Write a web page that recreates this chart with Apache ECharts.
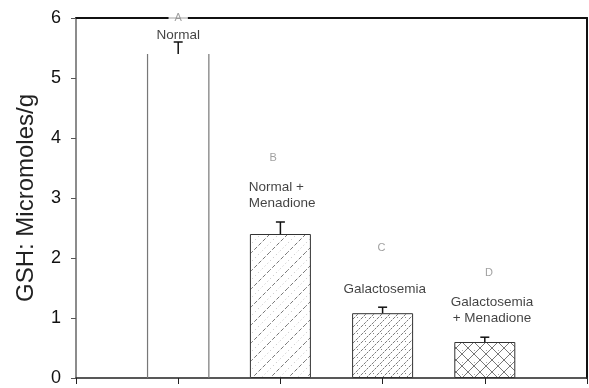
<!DOCTYPE html>
<html>
<head>
<meta charset="utf-8">
<script src="https://cdn.jsdelivr.net/npm/echarts@6/dist/echarts.min.js"></script>
<style>
html,body{margin:0;padding:0;background:#fff;}
#chart{width:589px;height:388px;}
</style>
</head>
<body>
<div id="chart"></div>
<script>
// ---- data ----
const categories = ['Normal', 'Normal + Menadione', 'Galactosemia', 'Galactosemia + Menadione'];
const categoryPos = [1, 2, 3, 4];
const gshMean = [5.4, 2.4, 1.08, 0.6];
const gshErr = [0.2, 0.2, 0.1, 0.08];
const yTickValues = [0, 1, 2, 3, 4, 5, 6];

const letterText = ['A', 'B', 'C', 'D'];
const letterX = [1.0, 1.93, 2.99, 4.04];
const letterY = [6.0, 3.67, 2.17, 1.75];

const nameText = ['Normal', 'Normal +\nMenadione', 'Galactosemia', 'Galactosemia\n+ Menadione'];
const nameX = [1.0, 1.69, 3.02, 4.07];
const nameY = [5.72, 3.05, 1.48, 1.13];
const nameAlign = ['center', 'left', 'center', 'center'];

// ---- patterns ----
function makeTile(size, draw) {
  const c = document.createElement('canvas');
  c.width = size; c.height = size;
  const ctx = c.getContext('2d');
  ctx.fillStyle = '#fff';
  ctx.fillRect(0, 0, size, size);
  draw(ctx, size);
  return c;
}
function diag(ctx, s, off) {
  ctx.beginPath();
  ctx.moveTo(-2 + off, s + 2);
  ctx.lineTo(s + 2 + off, -2);
  ctx.stroke();
}
const tile2 = makeTile(18, (ctx, s) => {
  ctx.strokeStyle = '#555'; ctx.lineWidth = 0.8; ctx.setLineDash([4, 2]);
  diag(ctx, s, 0);
  ctx.strokeStyle = '#aaa'; ctx.setLineDash([1, 3]);
  diag(ctx, s, -9); diag(ctx, s, 9);
});
const tile3 = makeTile(8, (ctx, s) => {
  ctx.strokeStyle = '#555'; ctx.lineWidth = 0.8; ctx.setLineDash([3, 1]);
  diag(ctx, s, 0); diag(ctx, s, -8); diag(ctx, s, 8);
  ctx.fillStyle = '#888'; ctx.fillRect(5, 5, 1, 1);
});
const tile4 = makeTile(12, (ctx, s) => {
  ctx.strokeStyle = '#555'; ctx.lineWidth = 0.8;
  ctx.beginPath(); ctx.moveTo(0, s); ctx.lineTo(s, 0); ctx.stroke();
  ctx.beginPath(); ctx.moveTo(0, 0); ctx.lineTo(s, s); ctx.stroke();
  ctx.fillStyle = '#aaa'; ctx.fillRect(6, 2, 1, 1);
});
const fills = [null, tile2, tile3, tile4];

const chart = echarts.init(document.getElementById('chart'), null, {renderer: 'canvas'});
const FONT = '"Liberation Sans", Arial, sans-serif';

const barData = [];
for (let i = 1; i < gshMean.length; i++) {
  barData.push({
    value: [categoryPos[i], gshMean[i]],
    itemStyle: {color: {image: fills[i], repeat: 'repeat'}, borderColor: '#333', borderWidth: 1}
  });
}
const errData = gshMean.map((v, i) => [categoryPos[i], v, v + gshErr[i]]);
const labelData = [];
letterText.forEach((t, i) => labelData.push({
  value: [letterX[i], letterY[i]],
  label: {show: true, position: 'inside', formatter: t, fontSize: 11, color: '#888', fontFamily: FONT,
    backgroundColor: i === 0 ? '#fff' : 'transparent', padding: i === 0 ? [1, 6, 1, 6] : 0}
}));
nameText.forEach((t, i) => labelData.push({
  value: [nameX[i], nameY[i]],
  label: {show: true, position: 'inside', formatter: t, fontSize: 13.5, color: '#111', fontFamily: FONT,
    align: nameAlign[i], lineHeight: 16}
}));

chart.setOption({
  animation: false,
  backgroundColor: '#fff',
  grid: {left: 76, right: 2, top: 18, bottom: 10, containLabel: false},
  xAxis: [{
    type: 'value', min: 0, max: 5, interval: 1,
    axisLine: {show: true, lineStyle: {color: '#222', width: 1.5}},
    axisTick: {show: true, length: 6, lineStyle: {color: '#222'}},
    axisLabel: {show: false},
    splitLine: {show: false}
  }, {
    type: 'value', min: 0, max: 5, position: 'top',
    axisLine: {show: true, onZero: false, lineStyle: {color: '#111', width: 2}},
    axisTick: {show: false}, axisLabel: {show: false}, splitLine: {show: false}
  }],
  yAxis: [{
    type: 'value', min: yTickValues[0], max: yTickValues[yTickValues.length - 1], interval: 1,
    name: 'GSH: Micromoles/g', nameLocation: 'middle', nameGap: 38,
    nameTextStyle: {fontSize: 24, color: '#222', fontFamily: FONT},
    axisLine: {show: true, lineStyle: {color: '#666', width: 1.5}},
    axisTick: {show: true, length: 5, lineStyle: {color: '#555'}},
    axisLabel: {fontSize: 18, color: '#111', margin: 15, fontFamily: FONT},
    splitLine: {show: false}
  }, {
    type: 'value', min: 0, max: 6, position: 'right',
    axisLine: {show: true, onZero: false, lineStyle: {color: '#111', width: 2}},
    axisTick: {show: false}, axisLabel: {show: false}, splitLine: {show: false}
  }],
  series: [{
    type: 'custom',
    renderItem: function (params, api) {
      const x = api.value(0), h = api.value(1);
      const half = 0.3;
      const a = api.coord([x - half, 0]), b = api.coord([x - half, h]);
      const c = api.coord([x + half, 0]), d = api.coord([x + half, h]);
      return {type: 'group', children: [
        {type: 'line', shape: {x1: a[0], y1: a[1], x2: b[0], y2: b[1]}, style: {stroke: '#777', lineWidth: 1.2}},
        {type: 'line', shape: {x1: c[0], y1: c[1], x2: d[0], y2: d[1]}, style: {stroke: '#777', lineWidth: 1.2}}
      ]};
    },
    data: [[categoryPos[0], gshMean[0]]],
    z: 2
  }, {
    type: 'bar',
    barWidth: 61,
    data: barData,
    z: 2
  }, {
    type: 'custom',
    renderItem: function (params, api) {
      const x = api.value(0);
      const p1 = api.coord([x, api.value(1)]), p2 = api.coord([x, api.value(2)]);
      return {type: 'group', children: [
        {type: 'line', shape: {x1: p1[0], y1: p1[1], x2: p2[0], y2: p2[1]}, style: {stroke: '#111', lineWidth: 1.5}},
        {type: 'line', shape: {x1: p2[0] - 4.5, y1: p2[1], x2: p2[0] + 4.5, y2: p2[1]}, style: {stroke: '#111', lineWidth: 1.5}}
      ]};
    },
    data: errData,
    z: 3
  }, {
    type: 'scatter',
    symbolSize: 0,
    clip: false,
    data: labelData,
    z: 5
  }]
});
</script>
</body>
</html>
